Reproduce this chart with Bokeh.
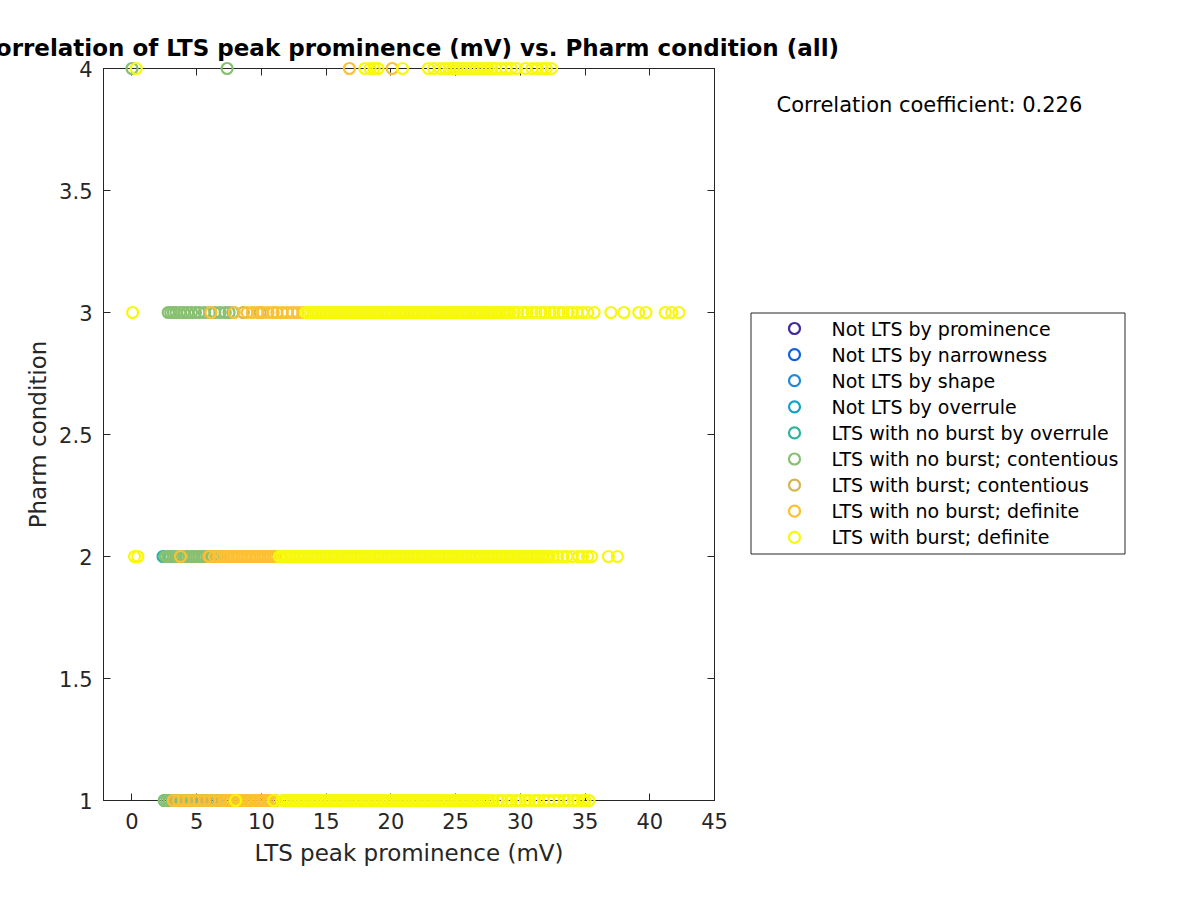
from bokeh.plotting import figure
from bokeh.models import (Range1d, LinearAxis, FixedTicker, CustomJSTickFormatter,
                          ColumnDataSource)
from bokeh.core.properties import value
from bokeh.embed import file_html
from bokeh.resources import INLINE

# ---------------- data ----------------
categories = ["Not LTS by prominence", "Not LTS by narrowness", "Not LTS by shape",
              "Not LTS by overrule", "LTS with no burst by overrule",
              "LTS with no burst; contentious", "LTS with burst; contentious",
              "LTS with no burst; definite", "LTS with burst; definite"]
colors = ["#3E2A9C", "#1060DE", "#1E88D8", "#0FA2C6", "#2EB39C",
          "#88C072", "#D6B54E", "#FCC032", "#F8F80C"]

x_ticks = [0, 5, 10, 15, 20, 25, 30, 35, 40, 45]
y_ticks = [1, 1.5, 2, 2.5, 3, 3.5, 4]
corr_coef = 0.226

# LTS peak prominence (mV) values, per category, per pharm condition (1..4)
teal_c1 = [2.5, 2.9, 3.3, 4.5, 5.0, 6.0, 6.5]
teal_c2 = [2.4, 2.6, 2.9]
green_c1 = [2.5, 2.7, 2.9, 3.1, 3.3, 3.5, 3.7, 3.9, 4.1, 4.3, 4.5, 4.7, 4.9, 5.1,
            5.3, 5.5, 5.7, 5.9, 6.1, 6.3, 6.5, 6.8, 7.1]
green_c2 = [2.6, 2.8, 3.0, 3.2, 3.4, 3.6, 3.8, 4.0, 4.2, 4.4, 4.6, 4.8, 5.0, 5.2,
            5.4, 5.6, 5.8, 6.0, 6.2, 6.5, 6.8, 7.1]
green_c3 = [2.8, 3.0, 3.2, 3.4, 3.7, 4.0, 4.3, 4.6, 4.9, 5.2, 5.6, 6.0, 6.4, 6.8, 7.2,
            7.5, 7.8]
green_c4 = [0.0, 7.35]
tan_c1 = [3.4, 5.0, 6.2]
tan_c2 = [5.9, 6.6]
tan_c3 = [8.6, 9.9]
orange_c1 = [3.2, 3.6, 4.0, 4.4, 4.8, 5.2, 5.6, 6.0, 6.4, 6.8, 7.1, 7.3, 7.5, 7.7, 7.9,
             8.1, 8.3, 8.5, 8.7, 8.9, 9.1, 9.3, 9.5, 9.7, 9.9, 10.1, 10.3, 10.5, 10.7,
             10.9, 11.1]
orange_c2 = [3.75, 6.0, 6.4, 6.7, 7.0, 7.3, 7.5, 7.7, 7.9, 8.1, 8.3, 8.5, 8.7,
             8.9, 9.1, 9.3, 9.5, 9.7, 9.9, 10.1, 10.3, 10.5, 10.7, 10.9, 11.1]
orange_c3 = [6.1, 7.9, 8.9, 9.3, 9.7, 10.1, 10.5, 10.9, 11.2, 11.6, 12.0, 12.4, 12.8, 13.2]
orange_c4 = [16.8, 20.1]
yellow_c1 = [8.0, 10.95,
             11.6, 11.8, 12.0, 12.2, 12.4, 12.6, 12.8, 13.0, 13.2, 13.4, 13.6, 13.8, 14.0,
             14.2, 14.4, 14.6, 14.8, 15.0, 15.2, 15.4, 15.6, 15.8, 16.0, 16.2, 16.4, 16.6,
             16.8, 17.0, 17.2, 17.4, 17.6, 17.8, 18.0, 18.2, 18.4, 18.6, 18.8, 19.0, 19.2,
             19.4, 19.6, 19.8, 20.0, 20.2, 20.4, 20.6, 20.8, 21.0, 21.2, 21.4, 21.6, 21.8,
             22.0, 22.2, 22.4, 22.6, 22.8, 23.0, 23.2, 23.4, 23.6, 23.8, 24.0, 24.2, 24.4,
             24.6, 24.8, 25.0, 25.2, 25.4, 25.6, 25.8, 26.0, 26.2, 26.4, 26.6, 26.8, 27.0,
             27.2, 27.4, 27.6,
             27.9, 28.3, 28.6, 29.0, 29.3, 29.7, 30.0, 30.4, 30.7, 31.1, 31.4, 31.8, 32.2,
             32.6, 33.0, 33.4, 33.7, 34.1, 34.4, 34.8, 35.0, 35.3]
yellow_c2 = [0.2, 0.45,
             11.4, 11.6, 11.8, 12.0, 12.2, 12.4, 12.6, 12.8, 13.0, 13.2, 13.4, 13.6, 13.8,
             14.0, 14.2, 14.4, 14.6, 14.8, 15.0, 15.2, 15.4, 15.6, 15.8, 16.0, 16.2, 16.4,
             16.6, 16.8, 17.0, 17.2, 17.4, 17.6, 17.8, 18.0, 18.2, 18.4, 18.6, 18.8, 19.0,
             19.2, 19.4, 19.6, 19.8, 20.0, 20.2, 20.4, 20.6, 20.8, 21.0, 21.2, 21.4, 21.6,
             21.8, 22.0, 22.2, 22.4, 22.6, 22.8, 23.0, 23.2, 23.4, 23.6, 23.8, 24.0, 24.2,
             24.4, 24.6, 24.8, 25.0, 25.2, 25.4, 25.6, 25.8, 26.0, 26.2, 26.4, 26.6, 26.8,
             27.0, 27.2, 27.4, 27.6, 27.8, 28.0, 28.2, 28.4, 28.6, 28.8, 29.0, 29.2, 29.4,
             29.6, 29.8, 30.0, 30.2, 30.4, 30.6, 30.8, 31.0, 31.2, 31.4, 31.6, 31.8, 32.0,
             32.2,
             32.5, 32.9, 33.3, 33.6, 34.0, 34.5, 34.8, 35.2, 35.5, 36.8, 37.5]
yellow_c3 = [0.05,
             13.4, 13.6, 13.8, 14.0, 14.2, 14.4, 14.6, 14.8, 15.0, 15.2, 15.4, 15.6, 15.8,
             16.0, 16.2, 16.4, 16.6, 16.8, 17.0, 17.2, 17.4, 17.6, 17.8, 18.0, 18.2, 18.4,
             18.6, 18.8, 19.0, 19.2, 19.4, 19.6, 19.8, 20.0, 20.2, 20.4, 20.6, 20.8, 21.0,
             21.2, 21.4, 21.6, 21.8, 22.0, 22.2, 22.4, 22.6, 22.8, 23.0, 23.2, 23.4, 23.6,
             23.8, 24.0, 24.2, 24.4, 24.6, 24.8, 25.0, 25.2, 25.4, 25.6, 25.8, 26.0, 26.2,
             26.4, 26.6, 26.8, 27.0, 27.2, 27.4, 27.6, 27.8, 28.0, 28.2, 28.4, 28.6, 28.8,
             29.0, 29.2,
             29.5, 29.8, 30.2, 30.5, 30.9, 31.2, 31.6, 31.9, 32.3, 32.6, 33.0, 33.3, 33.7,
             34.0, 34.4, 34.8, 35.2, 35.7, 37.0, 38.0, 39.15, 39.7, 41.2, 41.7, 42.25]
yellow_c4 = [0.33, 18.0, 18.4, 18.7, 19.0, 20.9, 22.9, 23.3, 23.8, 24.2, 24.5, 24.8, 25.1,
             25.4, 25.7, 26.0, 26.3, 26.6, 26.9, 27.2, 27.5, 27.8, 28.1, 28.5, 28.9, 29.3,
             29.7, 30.4, 30.9, 31.3, 31.7, 32.0, 32.4]

series = {
    "Not LTS by prominence": [[], [], [], []],
    "Not LTS by narrowness": [[], [], [], []],
    "Not LTS by shape": [[], [], [], []],
    "Not LTS by overrule": [[], [], [], []],
    "LTS with no burst by overrule": [teal_c1, teal_c2, [], []],
    "LTS with no burst; contentious": [green_c1, green_c2, green_c3, green_c4],
    "LTS with burst; contentious": [tan_c1, tan_c2, tan_c3, []],
    "LTS with no burst; definite": [orange_c1, orange_c2, orange_c3, orange_c4],
    "LTS with burst; definite": [yellow_c1, yellow_c2, yellow_c3, yellow_c4],
}
pharm_conditions = [1, 2, 3, 4]

# ---------------- layout constants (pixels) ----------------
FONT = "DejaVu Sans"
INK = "#262626"
W, H = 1200, 900
FRAME_L, FRAME_R, FRAME_T, FRAME_B = 103, 714, 68, 800
X_LIM = (-2.2, 45)
Y_LIM = (1, 4)
MARKER_SIZE = 11
MARKER_LW = 2.2

def dx(px):
    return X_LIM[0] + (px - FRAME_L) / (FRAME_R - FRAME_L) * (X_LIM[1] - X_LIM[0])

def dy(py):
    return Y_LIM[1] - (py - FRAME_T) / (FRAME_B - FRAME_T) * (Y_LIM[1] - Y_LIM[0])

p = figure(width=W, height=H, output_backend="svg", toolbar_location=None,
           x_range=Range1d(*X_LIM), y_range=Range1d(*Y_LIM),
           min_border_left=FRAME_L, min_border_right=W - FRAME_R,
           min_border_top=FRAME_T, min_border_bottom=H - FRAME_B,
           x_axis_label="LTS peak prominence (mV)", y_axis_label="Pharm condition")
p.background_fill_color = "white"
p.border_fill_color = "white"
p.outline_line_color = INK
p.outline_line_width = 1
p.xgrid.visible = False
p.ygrid.visible = False

p.title.text = "Correlation of LTS peak prominence (mV) vs. Pharm condition (all)"
p.title.align = "center"
p.title.text_font = FONT
p.title.text_font_size = "23px"
p.title.text_font_style = "bold"
p.title.text_color = "black"
p.title.standoff = 15

fmt = CustomJSTickFormatter(code="return String(tick);")
blank_fmt = CustomJSTickFormatter(code="return '';")

def style_axis(ax, ticks, labels=True):
    ax.ticker = FixedTicker(ticks=ticks)
    ax.major_tick_in = 7
    ax.major_tick_out = 0
    ax.minor_tick_line_color = None
    ax.axis_line_color = INK
    ax.major_tick_line_color = INK
    if labels:
        ax.formatter = fmt
        ax.major_label_text_font = FONT
        ax.major_label_text_font_size = "21px"
        ax.major_label_text_color = INK
        ax.axis_label_text_font = FONT
        ax.axis_label_text_font_size = "23px"
        ax.axis_label_text_font_style = "normal"
        ax.axis_label_text_color = INK
    else:
        ax.formatter = blank_fmt
        ax.major_label_standoff = 0

style_axis(p.xaxis[0], x_ticks)
style_axis(p.yaxis[0], y_ticks)
p.xaxis[0].major_label_standoff = 12
p.xaxis[0].axis_label_standoff = 8
p.yaxis[0].major_label_standoff = 11
p.yaxis[0].axis_label_standoff = 5

top_ax = LinearAxis()
style_axis(top_ax, x_ticks, labels=False)
p.add_layout(top_ax, "above")
right_ax = LinearAxis()
style_axis(right_ax, y_ticks, labels=False)
p.add_layout(right_ax, "right")

# ---------------- data marks ----------------
for cat, col in zip(categories, colors):
    xs, ys = [], []
    for cond, vals in zip(pharm_conditions, series[cat]):
        xs.extend(vals)
        ys.extend([cond] * len(vals))
    src = ColumnDataSource(data=dict(x=xs, y=ys))
    r = p.scatter("x", "y", source=src, marker="circle", size=MARKER_SIZE,
                  fill_color=None, line_color=col, line_width=MARKER_LW)
    r.level = "overlay"   # like MATLAB: markers on the box edges are not clipped

# ---------------- legend (outside the axes, drawn unclipped) ----------------
LEG_L, LEG_R, LEG_T, LEG_B = 750.5, 1124.5, 312.5, 553.5
LEG_FIRST, LEG_STEP = 328, 26.1
LEG_MARK_X, LEG_TEXT_X = 794, 831

box = p.quad(left=[dx(LEG_L)], right=[dx(LEG_R)], top=[dy(LEG_T)], bottom=[dy(LEG_B)],
             fill_color="white", line_color=INK, line_width=1)
box.level = "overlay"

leg_y = [dy(LEG_FIRST + LEG_STEP * i) for i in range(len(categories))]
leg_src = ColumnDataSource(data=dict(
    mx=[dx(LEG_MARK_X)] * len(categories), tx=[dx(LEG_TEXT_X)] * len(categories),
    y=leg_y, label=categories, color=colors))
lm = p.ellipse("mx", "y", source=leg_src, width=MARKER_SIZE, height=MARKER_SIZE,
               width_units="screen", height_units="screen",
               fill_color=None, line_color="color", line_width=MARKER_LW)
lm.level = "overlay"
lt = p.text("tx", "y", text="label", source=leg_src, text_font=value(FONT),
            text_font_size=value("19px"), text_color="black",
            text_baseline="middle", text_align="left")
lt.level = "overlay"

# ---------------- correlation annotation ----------------
corr_src = ColumnDataSource(data=dict(x=[dx(776)], y=[dy(104)],
                                      t=[f"Correlation coefficient: {corr_coef}"]))
tr = p.text("x", "y", text="t", source=corr_src, text_font=value(FONT),
            text_font_size=value("21px"), text_color="black",
            text_baseline="middle", text_align="left")
tr.level = "overlay"

open("out.html", "w").write(file_html(p, INLINE))
